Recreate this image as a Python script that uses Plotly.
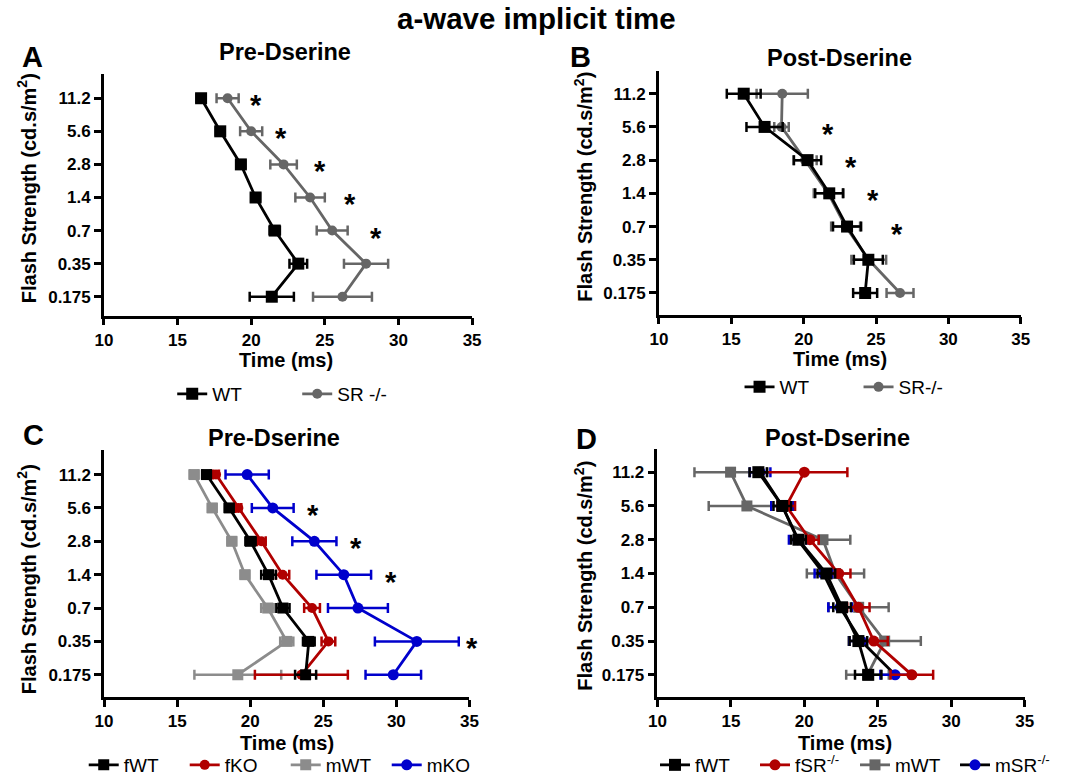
import plotly.graph_objects as go

W, H = 1073, 784

flash_labels = ["0.175", "0.35", "0.7", "1.4", "2.8", "5.6", "11.2"]
ypos = list(range(len(flash_labels)))
x_ticks = [10, 15, 20, 25, 30, 35]
X_RANGE = [10, 35]

# Panel A: Pre-Dserine
a_wt = [21.4, 23.2, 21.6, 20.3, 19.3, 17.9, 16.6]
a_wt_err = [1.5, 0.6, 0.35, 0.3, 0.3, 0.3, 0.3]
a_sr = [26.2, 27.8, 25.5, 24.0, 22.2, 20.0, 18.4]
a_sr_err = [2.0, 1.5, 1.05, 1.0, 0.9, 0.75, 0.75]
a_star_x = [None, None, 28.5, 26.7, 24.65, 22.0, 20.3]

# Panel B: Post-Dserine
b_wt = [24.25, 24.47, 23.0, 21.77, 20.27, 17.3, 15.86]
b_wt_err = [0.83, 1.0, 0.97, 0.97, 0.94, 1.25, 1.17]
b_sr = [26.66, 24.5, 22.9, 21.7, 20.1, 18.47, 18.52]
b_sr_err = [0.93, 1.2, 1.0, 1.0, 0.8, 0.5, 1.77]
b_star_x = [None, None, 26.47, 24.8, 23.3, 21.65, None]

# Panel C: Pre-Dserine by sex
c_fwt = [23.79, 24.01, 22.24, 21.25, 20.02, 18.56, 17.01]
c_fwt_err = [0.72, 0.4, 0.45, 0.5, 0.35, 0.3, 0.3]
c_fko = [23.5, 25.35, 24.23, 22.22, 20.76, 19.19, 17.66]
c_fko_err = [3.18, 0.47, 0.54, 0.45, 0.3, 0.2, 0.2]
c_mwt = [19.15, 22.5, 21.2, 19.64, 18.74, 17.4, 16.16]
c_mwt_err = [2.97, 0.45, 0.45, 0.3, 0.3, 0.3, 0.3]
c_mko = [29.79, 31.4, 27.37, 26.4, 24.39, 21.54, 19.79]
c_mko_err = [1.9, 2.87, 2.05, 1.87, 1.51, 1.43, 1.48]
c_star_x = [None, 35.2, None, 29.6, 27.26, 24.3, None]

# Panel D: Post-Dserine by sex
d_fwt = [24.35, 23.68, 22.57, 21.5, 19.6, 18.5, 16.87]
d_fwt_err = [0.9, 0.6, 0.6, 0.6, 0.5, 0.6, 0.6]
d_fsr = [27.32, 24.73, 23.68, 22.34, 20.38, 18.77, 20.0]
d_fsr_err = [1.45, 0.95, 0.76, 0.8, 0.6, 0.6, 2.93]
d_mwt = [24.3, 25.47, 23.7, 22.12, 21.27, 16.09, 14.98]
d_mwt_err = [1.45, 2.46, 2.04, 1.95, 1.86, 2.6, 2.46]
d_msr = [26.18, 23.87, 22.43, 21.3, 19.55, 18.5, 16.99]
d_msr_err = [1.0, 0.8, 0.8, 0.6, 0.6, 0.75, 0.7]

FONT = "Liberation Sans, Arial, sans-serif"
BLACK = "#000000"
GRAY = "#666666"
LGRAY = "#8c8c8c"
RED = "#b00000"
BLUE = "#0000cc"


def px_x(p):
    return p / W


def px_y(p):
    return 1 - p / H


fig = go.Figure()


def add_series(xvals, err, color, symbol, name, xa, ya, legend, rank, line_color=None, msize=11):
    fig.add_trace(go.Scatter(
        x=xvals, y=ypos, mode="lines+markers", name=name,
        line=dict(color=line_color or color, width=2.8),
        marker=dict(color=color, symbol=symbol, size=msize),
        error_x=dict(type="data", array=err, visible=True, color=color, thickness=2.5, width=5),
        xaxis=xa, yaxis=ya, legend=legend, legendrank=rank, cliponaxis=False,
    ))


# A
add_series(a_sr, a_sr_err, GRAY, "circle", "SR -/-", "x", "y", "legend", 2, msize=10)
add_series(a_wt, a_wt_err, BLACK, "square", "WT", "x", "y", "legend", 1, msize=12)
# B
add_series(b_sr, b_sr_err, GRAY, "circle", "SR-/-", "x2", "y2", "legend2", 2, msize=10)
add_series(b_wt, b_wt_err, BLACK, "square", "WT", "x2", "y2", "legend2", 1, msize=12)
# C
add_series(c_mwt, c_mwt_err, LGRAY, "square", "mWT", "x3", "y3", "legend3", 3, msize=11)
add_series(c_fko, c_fko_err, RED, "circle", "fKO", "x3", "y3", "legend3", 2, msize=10)
add_series(c_mko, c_mko_err, BLUE, "circle", "mKO", "x3", "y3", "legend3", 4, msize=11)
add_series(c_fwt, c_fwt_err, BLACK, "square", "fWT", "x3", "y3", "legend3", 1, msize=11)
# D
add_series(d_mwt, d_mwt_err, GRAY, "square", "mWT", "x4", "y4", "legend4", 3, msize=11)
add_series(d_msr, d_msr_err, BLUE, "circle", "mSR<sup>-/-</sup>", "x4", "y4", "legend4", 4, line_color=BLACK, msize=11)
add_series(d_fsr, d_fsr_err, RED, "circle", "fSR<sup>-/-</sup>", "x4", "y4", "legend4", 2, msize=11)
add_series(d_fwt, d_fwt_err, BLACK, "square", "fWT", "x4", "y4", "legend4", 1, msize=12)

panels = {
    # xdomain px, ydomain px (top,bottom), yrange
    "": ((96.5, 471), (75, 318), (-0.57, 6.72)),
    "2": ((661, 1029), (72, 317), (-0.65, 6.67)),
    "3": ((96.7, 468.3), (453, 702.5), (-0.67, 6.75)),
    "4": ((659.5, 1033), (452, 702.5), (-0.66, 6.70)),
}

axis_style = dict(
    showline=True, linecolor=BLACK, linewidth=2.5, ticks="outside", ticklen=7,
    tickwidth=2.5, tickcolor=BLACK, showgrid=False, zeroline=False,
    tickfont=dict(family=FONT, size=17, color=BLACK, weight="bold"),
)

for suf, ((x0, x1), (yt, yb), yr) in panels.items():
    fig.layout["xaxis" + suf] = dict(
        domain=[px_x(x0), px_x(x1)], range=X_RANGE, tickvals=x_ticks,
        anchor="y" + suf, **axis_style)
    fig.layout["yaxis" + suf] = dict(
        domain=[px_y(yb), px_y(yt)], range=list(yr), tickvals=ypos, ticktext=flash_labels,
        anchor="x" + suf, **axis_style)

ann = []


def text(x, y, s, size, bold=True, angle=0):
    ann.append(dict(
        x=px_x(x), y=px_y(y), xref="paper", yref="paper", text=s, showarrow=False,
        xanchor="center", yanchor="middle", textangle=angle,
        font=dict(family=FONT, size=size, color=BLACK, weight="bold" if bold else "normal")))


text(536, 19, "a-wave implicit time", 29.5)
text(281, 52, "Pre-Dserine", 23.5)
text(845, 58, "Post-Dserine", 23.5)
text(270, 441, "Pre-Dserine", 23.5)
text(843, 441, "Post-Dserine", 23.5)
text(24, 57, "A", 29)
text(581, 57, "B", 29)
text(25, 438, "C", 29)
text(587, 442, "D", 29)
ytitle = "Flash Strength (cd.s/m<sup>2</sup>)"
text(18, 190, ytitle, 20, angle=-90)
text(584, 188, ytitle, 20, angle=-90)
text(18, 584, ytitle, 20, angle=-90)
text(584, 580, ytitle, 20, angle=-90)
text(282, 363, "Time (ms)", 20)
text(845, 362, "Time (ms)", 20)
text(283, 749, "Time (ms)", 20)
text(850, 749, "Time (ms)", 20)

# significance asterisks, placed through each panel's axis mapping (paper coords so they
# can sit just beyond the axis end, as in the original)
for xs, suf in [(a_star_x, ""), (b_star_x, "2"), (c_star_x, "3")]:
    (x0, x1), (yt, yb), yr = panels[suf]
    for i, xv in enumerate(xs):
        if xv is None:
            continue
        fx = (xv - X_RANGE[0]) / (X_RANGE[1] - X_RANGE[0])
        fy = (ypos[i] - yr[0]) / (yr[1] - yr[0])
        ann.append(dict(
            x=px_x(x0) + fx * (px_x(x1) - px_x(x0)),
            y=px_y(yb) + fy * (px_y(yt) - px_y(yb)),
            xref="paper", yref="paper", text="*", showarrow=False,
            xanchor="center", yanchor="middle", yshift=-7,
            font=dict(family=FONT, size=29, color=BLACK, weight="bold")))

fig.update_layout(annotations=ann)

leg_common = dict(orientation="h", xanchor="left", yanchor="middle", bgcolor="rgba(0,0,0,0)",
                  font=dict(family=FONT, size=19, color=BLACK), entrywidthmode="pixels",
                  traceorder="normal")
fig.update_layout(
    legend=dict(x=px_x(166), y=px_y(397), entrywidth=80, **leg_common),
    legend2=dict(x=px_x(743), y=px_y(390), entrywidth=74, **leg_common),
    legend3=dict(x=px_x(76), y=px_y(771), entrywidth=56, **leg_common),
    legend4=dict(x=px_x(657), y=px_y(771), entrywidth=55, **leg_common),
)

fig.update_layout(
    width=W, height=H, margin=dict(l=0, r=0, t=0, b=0),
    paper_bgcolor="white", plot_bgcolor="white", showlegend=True,
    font=dict(family=FONT, color=BLACK),
)

fig.write_html("out.html")
